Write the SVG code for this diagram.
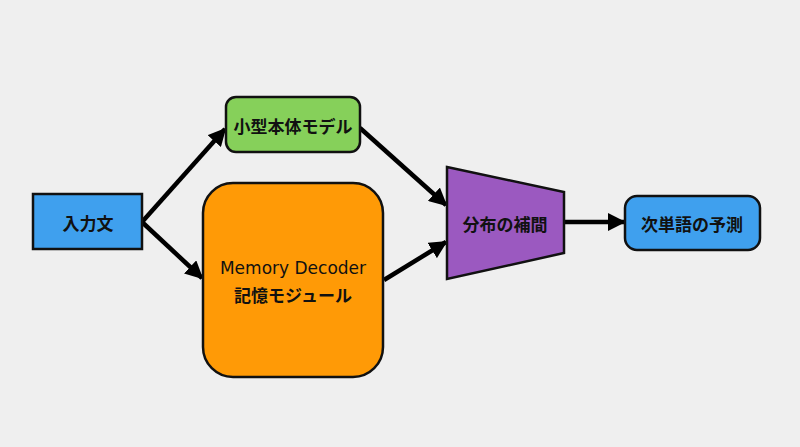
<svg xmlns="http://www.w3.org/2000/svg" width="800" height="447" viewBox="0 0 800 447">
<defs>
<style>
.n{stroke:#111;stroke-width:2.5}
.t{font-family:"Noto Sans CJK JP","Noto Sans",sans-serif;font-size:17px;font-weight:bold;fill:#111;text-anchor:middle;dominant-baseline:central}
.c line{stroke:#000;stroke-width:4.5;marker-end:url(#a)}
</style>
<marker id="a" viewBox="0 0 10 10" refX="9" refY="5" markerWidth="4" markerHeight="4" orient="auto" markerUnits="strokeWidth"><path d="M0,0L10,5L0,10z" fill="#000"/></marker>
</defs>
<rect width="800" height="447" fill="#efefef"/>
<g class="c">
<line x1="142" y1="222" x2="225" y2="129"/>
<line x1="142" y1="222" x2="202" y2="278"/>
<line x1="360" y1="128" x2="446" y2="205"/>
<line x1="384" y1="280" x2="446" y2="242"/>
<line x1="564" y1="222" x2="624" y2="222"/>
</g>
<g id="input"><rect class="n" x="33" y="194" width="109" height="55" fill="#3fa0ee"/><text class="t" x="88" y="222">入力文</text></g>
<g id="small"><rect class="n" x="226" y="97" width="134" height="55" rx="10" fill="#86d05a"/><text class="t" x="293" y="125">小型本体モデル</text></g>
<g id="mem"><rect class="n" x="203" y="183" width="180" height="194" rx="30" fill="#ff9a06"/><text class="t" x="293" y="268" style="font-weight:normal;font-family:'DejaVu Sans',sans-serif">Memory Decoder</text><text class="t" x="293" y="294">記憶モジュール</text></g>
<g id="interp"><polygon class="n" points="447,167 564,192 564,253 447,279" fill="#9b59c0"/><text class="t" x="505" y="223">分布の補間</text></g>
<g id="pred"><rect class="n" x="625" y="196" width="135" height="54" rx="12" fill="#3fa0ee"/><text class="t" x="692" y="223">次単語の予測</text></g>
</svg>
